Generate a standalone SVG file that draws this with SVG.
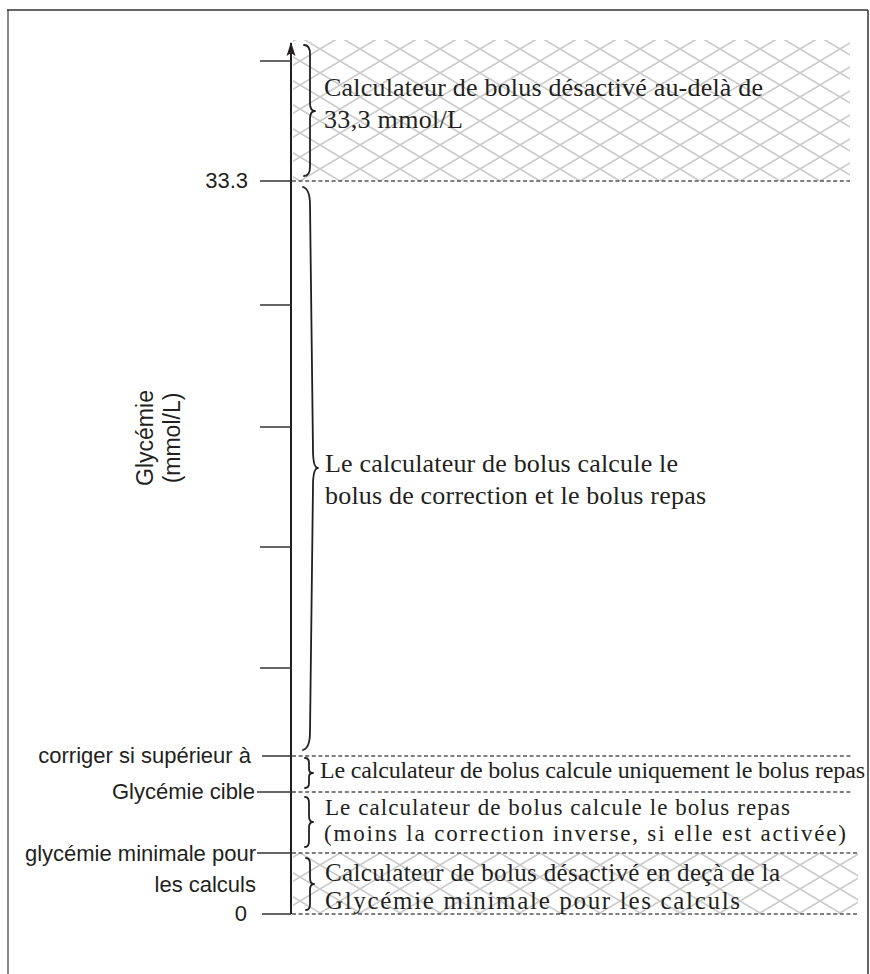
<svg xmlns="http://www.w3.org/2000/svg" width="870" height="974" viewBox="0 0 870 974">
  <style>
    .serif { font-family: "Liberation Serif", "Times New Roman", serif; fill: #231f20; }
    .sans { font-family: "Liberation Sans", Arial, sans-serif; fill: #231f20; font-size: 22px; }
    .tick { stroke: #333; stroke-width: 1.5; fill: none; }
    .dash { stroke: #555; stroke-width: 1.5; stroke-dasharray: 4 2.6; fill: none; }
    .brace { stroke: #231f20; stroke-width: 1.8; fill: none; stroke-linecap: round; stroke-linejoin: round; }
    .hatch { fill: url(#crosshatch); }
  </style>
  <defs>
    <pattern id="crosshatch" patternUnits="userSpaceOnUse" x="0" y="1" width="40" height="24">
      <path d="M0 0 L40 24 M0 24 L40 0" stroke="#cbcbcb" stroke-width="1.6" fill="none"/>
    </pattern>
    <marker id="arrow" viewBox="0 0 14 10" refX="13" refY="5" markerWidth="14" markerHeight="10" markerUnits="userSpaceOnUse" orient="auto">
      <path d="M0 0.5 L14 5 L0 9.5 L3 5 Z" fill="#231f20"/>
    </marker>
  </defs>

  <g id="frame">
    <line x1="8" y1="10" x2="8" y2="974" stroke="#888" stroke-width="2"/>
    <line x1="7" y1="10" x2="868" y2="10" stroke="#333" stroke-width="1.5"/>
    <line x1="868" y1="10" x2="868" y2="974" stroke="#333" stroke-width="1.5"/>
  </g>

  <g id="hatched-zones">
    <rect id="zone-above-33" class="hatch" x="293" y="40" width="557" height="141"/>
    <rect id="zone-below-min" class="hatch" x="293" y="853" width="565" height="61"/>
  </g>

  <g id="connectors">
    <line id="axis" x1="291" y1="914" x2="291" y2="43" stroke="#231f20" stroke-width="2" marker-end="url(#arrow)"/>
    <line class="tick" x1="260" y1="61" x2="291" y2="61"/>
    <line class="tick" x1="260" y1="181" x2="291" y2="181"/>
    <line class="tick" x1="260" y1="305" x2="291" y2="305"/>
    <line class="tick" x1="260" y1="427" x2="291" y2="427"/>
    <line class="tick" x1="260" y1="547" x2="291" y2="547"/>
    <line class="tick" x1="260" y1="668" x2="291" y2="668"/>
    <line class="tick" x1="262" y1="756" x2="291" y2="756"/>
    <line class="tick" x1="257" y1="792" x2="291" y2="792"/>
    <line class="tick" x1="257" y1="853" x2="291" y2="853"/>
    <line class="tick" x1="262" y1="914" x2="291" y2="914"/>
    <line class="dash" x1="292" y1="181" x2="850" y2="181"/>
    <line class="dash" x1="292" y1="756" x2="853" y2="756"/>
    <line class="dash" x1="292" y1="792" x2="853" y2="792"/>
    <line class="dash" x1="292" y1="853" x2="858" y2="853"/>
    <line class="dash" x1="292" y1="914" x2="858" y2="914"/>
  </g>

  <g id="axis-labels">
    <text class="sans" x="248" y="188" text-anchor="end">33.3</text>
    <text class="sans" x="251" y="763" text-anchor="end">corriger si supérieur à</text>
    <text class="sans" x="255" y="799" text-anchor="end">Glycémie cible</text>
    <text class="sans" x="256" y="861" text-anchor="end">glycémie minimale pour</text>
    <text class="sans" x="256" y="892" text-anchor="end">les calculs</text>
    <text class="sans" x="247" y="921" text-anchor="end">0</text>
    <g id="axis-title" transform="translate(153 438) rotate(-90)">
      <text class="sans" x="0" y="0" text-anchor="middle" style="font-size:23px">Glycémie</text>
      <text class="sans" x="0" y="27" text-anchor="middle" style="font-size:23px">(mmol/L)</text>
    </g>
  </g>

  <g id="zone-disabled-above">
    <path class="brace" d="M304 45 Q310 45 310 54 L310 103 Q310 111 315 111 Q310 111 310 119 L310 167 Q310 176 304 176"/>
    <text class="serif" style="font-size:26px" x="324" y="96" textLength="439">Calculateur de bolus désactivé au-delà de</text>
    <text class="serif" style="font-size:26px" x="324" y="128" textLength="139">33,3 mmol/L</text>
  </g>

  <g id="zone-correction-and-meal">
    <path class="brace" d="M303 187 Q310 189 310 205 L313 450 Q313 468 318 468 Q313 468 313 486 L310 732 Q310 748 303 750"/>
    <text class="serif" style="font-size:26px" x="325" y="472" textLength="353">Le calculateur de bolus calcule le</text>
    <text class="serif" style="font-size:26px" x="325" y="504" textLength="381">bolus de correction et le bolus repas</text>
  </g>

  <g id="zone-meal-only">
    <path class="brace" d="M305 758 Q309 758 309 763 L309 769 Q309 773 313 773 Q309 773 309 777 L309 783 Q309 788 305 788"/>
    <text class="serif" style="font-size:24px" x="320" y="778" textLength="545">Le calculateur de bolus calcule uniquement le bolus repas</text>
  </g>

  <g id="zone-meal-minus-reverse">
    <path class="brace" d="M305 797 Q309 797 309 803 L309 816 Q309 822 313 822 Q309 822 309 828 L309 841 Q309 847 305 847"/>
    <text class="serif" style="font-size:23px" x="325" y="815" textLength="465">Le calculateur de bolus calcule le bolus repas</text>
    <text class="serif" style="font-size:23px" x="324" y="841" textLength="522">(moins la correction inverse, si elle est activée)</text>
  </g>

  <g id="zone-disabled-below">
    <path class="brace" d="M306 858 Q310 858 310 864 L310 878 Q310 884 314 884 Q310 884 310 890 L310 904 Q310 910 306 910"/>
    <text class="serif" style="font-size:25px" x="325" y="881" textLength="455">Calculateur de bolus désactivé en deçà de la</text>
    <text class="serif" style="font-size:25px" x="325" y="909" textLength="415">Glycémie minimale pour les calculs</text>
  </g>
</svg>
